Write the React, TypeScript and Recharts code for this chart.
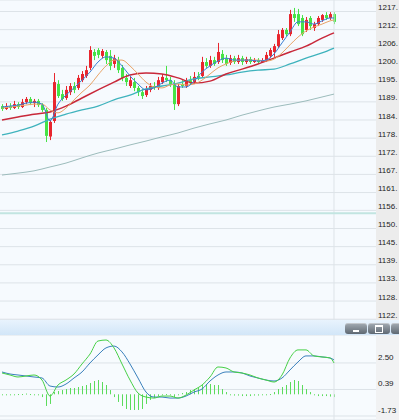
import React from "react";
import { ComposedChart, Bar, Line, XAxis, YAxis, CartesianGrid, ReferenceLine } from "recharts";

// ---- candle data (84 bars) ----
const candleOpen = [
  1188.4, 1187.5, 1188.4, 1187.8, 1189.0, 1188.1, 1189.6, 1190.6, 1189.3, 1190.0,
  1188.7, 1187.2, 1179.0, 1183.8, 1195.2, 1192.1, 1190.9, 1192.7, 1194.6, 1194.0,
  1196.4, 1197.7, 1200.2, 1205.1, 1205.7, 1203.9, 1205.1, 1203.9, 1201.4, 1202.6,
  1200.2, 1197.1, 1194.6, 1195.8, 1194.0, 1192.7, 1191.8, 1193.4, 1194.6, 1194.0,
  1195.8, 1197.1, 1196.4, 1195.2, 1189.0, 1195.2, 1194.6, 1196.4, 1195.8, 1197.7,
  1197.7, 1202.0, 1200.8, 1202.6, 1202.0, 1204.5, 1203.2, 1201.7, 1203.2, 1202.0,
  1203.2, 1202.0, 1202.9, 1202.0, 1202.6, 1202.0, 1202.6, 1203.9, 1205.1, 1206.9,
  1209.4, 1211.9, 1210.6, 1216.8, 1216.8, 1215.6, 1211.9, 1215.6, 1212.5, 1213.7,
  1215.0, 1216.5, 1215.6, 1216.8,
];
const candleHigh = [
  1189.0, 1189.3, 1189.3, 1190.0, 1189.6, 1190.6, 1191.2, 1191.2, 1190.6, 1190.6,
  1189.3, 1187.8, 1184.1, 1198.6, 1196.4, 1193.4, 1194.6, 1195.5, 1195.8, 1198.0,
  1199.2, 1200.8, 1206.9, 1206.0, 1206.3, 1206.0, 1205.7, 1205.7, 1204.2, 1203.6,
  1201.1, 1198.3, 1197.4, 1197.1, 1194.6, 1193.7, 1194.6, 1195.5, 1195.8, 1197.4,
  1198.3, 1200.8, 1197.4, 1196.4, 1195.2, 1196.4, 1197.1, 1197.7, 1198.9, 1198.9,
  1203.6, 1203.2, 1203.9, 1203.6, 1207.9, 1205.7, 1204.2, 1204.2, 1203.9, 1204.2,
  1203.9, 1203.6, 1203.6, 1203.2, 1203.2, 1203.2, 1205.1, 1206.3, 1207.6, 1211.9,
  1212.5, 1212.5, 1218.1, 1218.7, 1218.4, 1216.5, 1215.9, 1216.2, 1214.4, 1216.2,
  1216.8, 1217.4, 1217.4, 1217.4,
];
const candleLow = [
  1186.9, 1187.2, 1187.2, 1187.5, 1187.5, 1187.8, 1189.0, 1188.7, 1188.1, 1188.1,
  1186.6, 1177.3, 1177.9, 1183.2, 1190.9, 1190.0, 1190.3, 1191.8, 1192.4, 1193.4,
  1195.8, 1197.1, 1199.5, 1202.6, 1203.2, 1203.2, 1201.4, 1199.5, 1200.2, 1198.6,
  1196.1, 1194.6, 1194.0, 1193.0, 1191.5, 1190.6, 1191.2, 1192.7, 1193.4, 1193.4,
  1195.2, 1195.8, 1194.3, 1187.2, 1188.4, 1194.0, 1194.0, 1194.9, 1195.2, 1196.4,
  1197.1, 1200.2, 1200.2, 1200.8, 1201.4, 1201.7, 1200.8, 1201.1, 1201.4, 1201.4,
  1201.1, 1201.4, 1201.4, 1201.7, 1201.4, 1201.7, 1202.0, 1203.2, 1203.6, 1206.3,
  1208.8, 1210.0, 1210.0, 1214.4, 1213.1, 1210.0, 1211.3, 1211.9, 1211.6, 1213.1,
  1214.4, 1215.0, 1215.0, 1213.7,
];
const candleClose = [
  1187.5, 1188.4, 1187.8, 1189.0, 1188.1, 1189.6, 1190.6, 1189.3, 1190.0, 1188.7,
  1187.2, 1179.2, 1183.5, 1195.8, 1191.5, 1190.6, 1193.4, 1194.6, 1193.4, 1197.1,
  1198.3, 1199.5, 1205.7, 1203.9, 1204.2, 1205.4, 1202.6, 1200.8, 1203.2, 1199.5,
  1197.1, 1195.8, 1196.4, 1194.0, 1192.7, 1191.5, 1193.7, 1194.6, 1194.0, 1196.4,
  1197.4, 1196.4, 1195.2, 1189.0, 1194.6, 1194.6, 1196.4, 1195.5, 1197.4, 1197.1,
  1202.0, 1200.8, 1202.6, 1201.4, 1205.1, 1202.6, 1201.4, 1203.2, 1202.0, 1203.2,
  1202.0, 1202.9, 1202.0, 1202.6, 1202.0, 1202.6, 1204.2, 1205.7, 1206.9, 1210.6,
  1211.9, 1210.6, 1216.8, 1215.6, 1213.7, 1210.6, 1215.0, 1213.1, 1213.7, 1215.6,
  1216.5, 1215.6, 1216.8, 1214.4,
];

// ---- moving averages: fast ones read every 2nd bar (+ last), slow ones every 4th bar (+ last) ----
const maBlue = [
  1188.1, 1188.4, 1188.7, 1189.3, 1189.6, 1189.0, 1183.8, 1189.0, 1191.8, 1194.0,
  1196.4, 1198.9, 1202.0, 1203.6, 1203.2, 1200.8, 1197.7, 1195.2, 1193.4, 1194.0,
  1195.5, 1196.4, 1194.3, 1194.3, 1196.1, 1198.9, 1200.8, 1202.3, 1203.2, 1202.6,
  1202.6, 1202.6, 1202.3, 1202.6, 1204.5, 1207.9, 1211.3, 1214.4, 1214.4, 1213.7,
  1214.7, 1215.6, 1215.6,
];
const maOrange = [
  1187.8, 1188.1, 1188.4, 1188.7, 1189.0, 1189.0, 1187.2, 1186.3, 1187.8, 1190.3,
  1192.7, 1194.9, 1198.0, 1200.8, 1202.6, 1202.6, 1200.8, 1198.3, 1195.8, 1194.3,
  1194.0, 1194.9, 1195.2, 1194.9, 1195.2, 1196.4, 1198.3, 1200.2, 1201.4, 1202.3,
  1202.6, 1202.6, 1202.6, 1202.3, 1202.9, 1204.8, 1207.3, 1209.7, 1211.6, 1212.8,
  1213.7, 1214.7, 1215.0,
];
const maRed = [
  1184.1, 1185.0, 1185.9, 1186.6, 1188.4, 1190.9, 1193.4, 1195.8, 1198.0, 1198.6,
  1198.3, 1197.1, 1195.5, 1196.1, 1198.3, 1199.8, 1201.4, 1203.2, 1205.1, 1206.9,
  1209.4, 1211.0,
];
const maTeal = [
  1179.5, 1180.7, 1182.2, 1184.4, 1185.9, 1187.2, 1188.4, 1190.3, 1191.8, 1193.7,
  1194.6, 1195.5, 1196.8, 1197.4, 1198.0, 1198.9, 1199.5, 1199.8, 1201.4, 1203.2,
  1204.8, 1206.3,
];
const maLong = [
  1167.1, 1167.7, 1168.4, 1169.6, 1170.8, 1172.4, 1173.9, 1175.1, 1176.4, 1177.6,
  1178.9, 1180.1, 1181.6, 1182.9, 1184.1, 1185.6, 1186.9, 1188.1, 1189.0, 1190.0,
  1191.2, 1192.1,
];

// ---- MACD ----
const macdHist = [
  -0.06, -0.06, -0.02, -0.06, 0.02, 0.02, 0.06, 0.02, -0.06, -0.06,
  -0.22, -0.93, -0.77, 0.18, 0.26, 0.34, 0.42, 0.5, 0.5, 0.58,
  0.66, 0.74, 0.9, 1.06, 1.14, 0.98, 0.74, 0.34, -0.22, -0.61,
  -0.93, -1.17, -1.25, -1.25, -1.25, -1.17, -0.77, -0.45, -0.3, -0.14,
  -0.06, 0.02, -0.06, -0.22, -0.06, 0.1, 0.18, 0.34, 0.42, 0.5,
  0.74, 0.82, 0.82, 0.74, 0.74, 0.42, 0.18, -0.06, -0.1, -0.1,
  -0.14, -0.14, -0.14, -0.1, -0.1, -0.06, -0.06, 0.02, 0.18, 0.42,
  0.58, 0.74, 0.98, 1.14, 1.06, 0.74, 0.42, 0.18, -0.06, -0.14,
  -0.14, -0.14, -0.18, -0.22,
];
const macdDif = [
  1.7, 1.54, 1.38, 1.46, 1.54, 1.14, -0.14, 0.74, 1.14, 1.62,
  2.42, 3.21, 4.25, 4.33, 3.7, 2.42, 1.14, 0.1, -0.22, -0.3,
  -0.14, -0.14, -0.3, -0.06, 0.34, 0.74, 1.38, 2.18, 2.1, 1.78,
  1.7, 1.54, 1.3, 1.14, 0.98, 1.54, 2.9, 3.54, 3.54, 3.06,
  2.98, 2.9, 2.5,
];
const macdDea = [
  1.78, 1.62, 1.54, 1.46, 1.38, 1.3, 0.66, 0.58, 0.82, 1.3,
  1.78, 2.5, 3.14, 3.7, 3.85, 3.38, 2.42, 1.3, 0.18, -0.22,
  -0.22, -0.3, -0.3, -0.14, 0.18, 0.42, 1.06, 1.54, 1.78, 1.78,
  1.7, 1.46, 1.3, 1.14, 1.06, 1.3, 1.94, 2.58, 3.06, 3.06,
  2.98, 2.9, 2.74,
];

// ---- axes ----
const priceTicks = [1217.6, 1212.0, 1206.4, 1200.8, 1195.3, 1189.7, 1184.1, 1178.5, 1172.9, 1167.3, 1161.7, 1156.2, 1150.6, 1145.0, 1139.4, 1133.8, 1128.2, 1122.6];
const priceTickLabels = ["1217.", "1212.", "1206.", "1200.", "1195.", "1189.", "1184.", "1178.", "1172.", "1167.", "1161.", "1156.", "1150.", "1145.", "1139.", "1133.", "1128.", "1122."];
const priceDomain = [1122.35, 1221.15];
const markerLevel = 1155.3;
const macdTicks = [2.5, 0.385, -1.73];
const macdTickLabels = ["2.50", "0.39", "-1.73"];
const macdDomain = [-2.05, 4.73];
const EMPTY_SLOTS = 10;

const nBars = candleOpen.length;
const rows: any[] = Array.from({ length: nBars + EMPTY_SLOTS }, (_, i) =>
  i < nBars
    ? {
        idx: i,
        range: [candleLow[i], candleHigh[i]],
        open: candleOpen[i],
        high: candleHigh[i],
        low: candleLow[i],
        close: candleClose[i],
        hist: macdHist[i],
      }
    : { idx: i }
);
const everyTwo = (k: number, len: number) => (k < len - 1 ? 2 * k : nBars - 1);
const everyFour = (k: number, len: number) => (k < len - 1 ? 4 * k : nBars - 1);
maBlue.forEach((v, k) => (rows[everyTwo(k, maBlue.length)].blue = v));
maOrange.forEach((v, k) => (rows[everyTwo(k, maOrange.length)].orange = v));
macdDif.forEach((v, k) => (rows[everyTwo(k, macdDif.length)].dif = v));
macdDea.forEach((v, k) => (rows[everyTwo(k, macdDea.length)].dea = v));
maRed.forEach((v, k) => (rows[everyFour(k, maRed.length)].red = v));
maTeal.forEach((v, k) => (rows[everyFour(k, maTeal.length)].teal = v));
maLong.forEach((v, k) => (rows[everyFour(k, maLong.length)].long = v));

const UP = "#e8262e";
const DOWN = "#46e346";
const GRID = "#dde3e8";
const FONT = "'Liberation Sans', Arial, sans-serif";

const Candle = (props: any) => {
  const { x, y, width, height, payload } = props;
  if (!payload || payload.open == null || x == null) return null;
  const { open, close, high, low } = payload;
  const top = Math.min(y, y + height);
  const h = Math.abs(height);
  const ppu = h / (high - low || 1);
  const yO = top + (high - open) * ppu;
  const yC = top + (high - close) * ppu;
  const color = close >= open ? UP : DOWN;
  const left = Math.floor(x + width / 2 - 1.5);
  const bTop = Math.min(yO, yC);
  const bH = Math.max(1, Math.abs(yO - yC));
  return (
    <g>
      <rect x={left + 1} y={top} width={1} height={Math.max(1, h)} fill={color} />
      <rect x={left} y={bTop} width={3} height={bH} fill={color} />
    </g>
  );
};

const HistBar = (props: any) => {
  const { x, y, width, height } = props;
  if (x == null || y == null) return null;
  const top = Math.min(y, y + height);
  const h = Math.max(1, Math.abs(height));
  return <rect x={Math.floor(x + width / 2)} y={top} width={1} height={h} fill="#5cdc5c" />;
};

const makeTick = (values: number[], labels: string[], dy: number) => (props: any) => {
  const { x, y, payload } = props;
  const k = values.indexOf(payload.value);
  return (
    <text x={x} y={y + dy} fontSize={8} fill="#222" fontFamily={FONT} textAnchor="start">
      {k >= 0 ? labels[k] : ""}
    </text>
  );
};
const PriceTick = makeTick(priceTicks, priceTickLabels, -1.5);
const MacdTick = makeTick(macdTicks, macdTickLabels, -3);

const Btn = ({ left, width, glyph }: { left: number; width: number; glyph: "min" | "max" | "none" }) => (
  <div
    style={{
      position: "absolute",
      left,
      top: 323,
      width,
      height: 11,
      borderRadius: 3,
      background: "linear-gradient(#a4acb4, #5e6872)",
      boxShadow: "inset 0 1px 0 rgba(255,255,255,0.35)",
    }}
  >
    {glyph === "min" && (
      <div style={{ position: "absolute", left: width / 2 - 3, top: 7, width: 6, height: 2, background: "#fff" }} />
    )}
    {glyph === "max" && (
      <div
        style={{
          position: "absolute",
          left: width / 2 - 4,
          top: 2,
          width: 6,
          height: 5,
          border: "1px solid #fff",
          borderTopWidth: 2,
        }}
      />
    )}
  </div>
);

const lineProps = {
  dot: false,
  activeDot: false,
  connectNulls: true,
  type: "monotone" as const,
  isAnimationActive: false,
  legendType: "none" as const,
};

export default function App() {
  return (
    <div
      style={{
        position: "absolute",
        left: 0,
        top: 0,
        width: 399,
        height: 420,
        overflow: "hidden",
        background: "#f6fafe",
        fontFamily: FONT,
      }}
    >
      <div style={{ position: "absolute", left: 376, top: 0, width: 23, height: 320, background: "#ececec" }} />
      <div style={{ position: "absolute", left: 376, top: 335, width: 23, height: 85, background: "#f1f2f3" }} />
      <div style={{ position: "absolute", left: 0, top: 0 }}>
        <ComposedChart width={399} height={320} data={rows} margin={{ top: 0, right: 0, bottom: 0, left: 0 }}>
          <CartesianGrid vertical={false} stroke={GRID} fill="#f6fafe" />
          <XAxis dataKey="idx" type="category" hide />
          <YAxis
            orientation="right"
            width={23}
            domain={priceDomain}
            ticks={priceTicks}
            interval={0}
            allowDataOverflow
            axisLine={false}
            tickLine={false}
            tickSize={0}
            tickMargin={2}
            tick={PriceTick}
          />
          <ReferenceLine x={nBars - 1} stroke={GRID} />
          <ReferenceLine y={markerLevel} stroke="#c2e5e1" strokeWidth={2} />
          <Line dataKey="long" stroke="#9cbcbc" strokeWidth={1} {...lineProps} />
          <Line dataKey="teal" stroke="#3fb3bd" strokeWidth={1.3} {...lineProps} />
          <Line dataKey="red" stroke="#c8283a" strokeWidth={1.5} {...lineProps} />
          <Bar dataKey="range" barSize={3} shape={Candle} isAnimationActive={false} />
          <Line dataKey="orange" stroke="#e8a468" strokeWidth={1} {...lineProps} />
          <Line dataKey="blue" stroke="#3b7fd4" strokeWidth={1} {...lineProps} />
        </ComposedChart>
      </div>
      <div
        style={{
          position: "absolute",
          left: 0,
          top: 320,
          width: 399,
          height: 15,
          background: "linear-gradient(#e8f3fd, #d2e6f8)",
        }}
      />
      <Btn left={345} width={22} glyph="min" />
      <Btn left={368} width={22} glyph="max" />
      <Btn left={391} width={14} glyph="none" />
      <div style={{ position: "absolute", left: 0, top: 335 }}>
        <ComposedChart width={399} height={85} data={rows} margin={{ top: 0, right: 0, bottom: 0, left: 0 }}>
          <CartesianGrid vertical={false} stroke={GRID} fill="#f7fbfe" />
          <XAxis dataKey="idx" type="category" hide />
          <YAxis
            orientation="right"
            width={23}
            domain={macdDomain}
            ticks={macdTicks}
            interval={0}
            allowDataOverflow
            axisLine={false}
            tickLine={false}
            tickSize={0}
            tickMargin={2}
            tick={MacdTick}
          />
          <ReferenceLine x={nBars - 1} stroke={GRID} />
          <Bar dataKey="hist" barSize={1} shape={HistBar} isAnimationActive={false} />
          <Line dataKey="dea" stroke="#3a80bc" strokeWidth={1} {...lineProps} />
          <Line dataKey="dif" stroke="#46d046" strokeWidth={1} {...lineProps} />
        </ComposedChart>
      </div>
    </div>
  );
}
